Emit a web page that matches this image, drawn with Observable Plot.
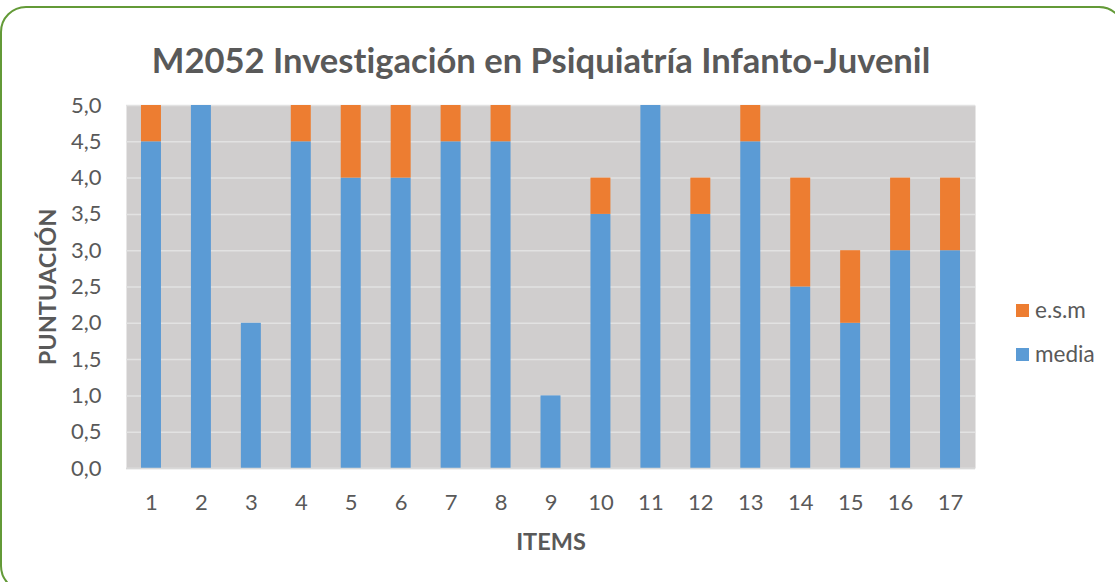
<!DOCTYPE html>
<html>
<head>
<meta charset="utf-8">
<script src="https://cdn.jsdelivr.net/npm/d3@7"></script>
<script src="https://cdn.jsdelivr.net/npm/@observablehq/plot@0.6"></script>
<style>
  html, body { margin: 0; padding: 0; background: #fff; }
  #wrap { position: relative; width: 1115px; height: 582px; overflow: hidden; font-family: Lato, sans-serif; font-variant-ligatures: none; }
  #border { position: absolute; left: 0px; top: 6px; width: 1125px; height: 586px; border: 2px solid #639a37; border-radius: 26px; box-sizing: border-box; }
  #title { position: absolute; left: 0; width: 1082px; top: 37px; text-align: center; font-size: 34.6px; font-weight: bold; color: #595959; white-space: nowrap; line-height: 46px; font-variant-ligatures: none; }
  .leg { position: absolute; left: 1016px; font-size: 22.5px; color: #595959; display: flex; align-items: center; line-height: 26px; }
  .leg span.sw { display: inline-block; width: 13px; height: 13px; margin-right: 6px; }
  #chart { position: absolute; left: 0; top: 0; }
</style>
</head>
<body>
<div id="wrap">
  <div id="border"></div>
  <div id="chart"></div>
  <div id="title">M2052 Investigación en Psiquiatría Infanto-Juvenil</div>
  <div class="leg" style="top:297px"><span class="sw" style="background:#ed7d31"></span>e.s.m</div>
  <div class="leg" style="top:341px"><span class="sw" style="background:#5b9bd5"></span>media</div>
</div>
<script>
const items = ["1","2","3","4","5","6","7","8","9","10","11","12","13","14","15","16","17"];
const media = [4.5, 5, 2, 4.5, 4, 4, 4.5, 4.5, 1, 3.5, 5, 3.5, 4.5, 2.5, 2, 3, 3];
const esm   = [0.5, 0, 0, 0.5, 1, 1, 0.5, 0.5, 0, 0.5, 0, 0.5, 0.5, 1.5, 1, 1, 1];
const seriesNames = ["media", "e.s.m"];
const seriesColors = ["#5b9bd5", "#ed7d31"];
const yTicks = [0, 0.5, 1, 1.5, 2, 2.5, 3, 3.5, 4, 4.5, 5];

const rows = [
  ...items.map((it, i) => ({item: it, series: "media", value: media[i]})),
  ...items.map((it, i) => ({item: it, series: "e.s.m", value: esm[i]}))
];

const fmt = d => d.toFixed(1).replace(".", ",");

const chart = Plot.plot({
  width: 1115,
  height: 582,
  marginTop: 105,
  marginBottom: 114,
  marginLeft: 126,
  marginRight: 140,
  style: {fontFamily: "Lato, sans-serif", fontSize: "22px", color: "#595959", background: "transparent", overflow: "visible"},
  x: {domain: items, paddingInner: 0.6, paddingOuter: 0.3, round: false, label: null},
  y: {domain: [0, 5], label: null},
  color: {domain: seriesNames, range: seriesColors},
  marks: [
    Plot.frame({fill: "#d0cece", stroke: null}),
    Plot.gridY(yTicks, {stroke: "#e2e2e2", strokeOpacity: 1, strokeWidth: 1.5}),
    Plot.barY(rows, {x: "item", y: "value", fill: "series", order: seriesNames}),
    Plot.ruleY([0], {stroke: "#d9d9d9", strokeWidth: 1.5}),
    Plot.axisX({tickSize: 0, tickPadding: 26, label: null, fill: "#595959", fontSize: 22}),
    Plot.axisY({ticks: yTicks, tickFormat: fmt, tickSize: 0, tickPadding: 25, label: null, fill: "#595959", fontSize: 22}),
    Plot.text(["ITEMS"], {frameAnchor: "bottom", dy: 81, fontWeight: "bold", fontSize: 23.5, fill: "#595959"}),
    Plot.text(["PUNTUACIÓN"], {frameAnchor: "left", textAnchor: "middle", dx: -78, rotate: -90, fontWeight: "bold", fontSize: 23.5, fill: "#595959"})
  ]
});
document.getElementById("chart").appendChild(chart);
</script>
</body>
</html>
